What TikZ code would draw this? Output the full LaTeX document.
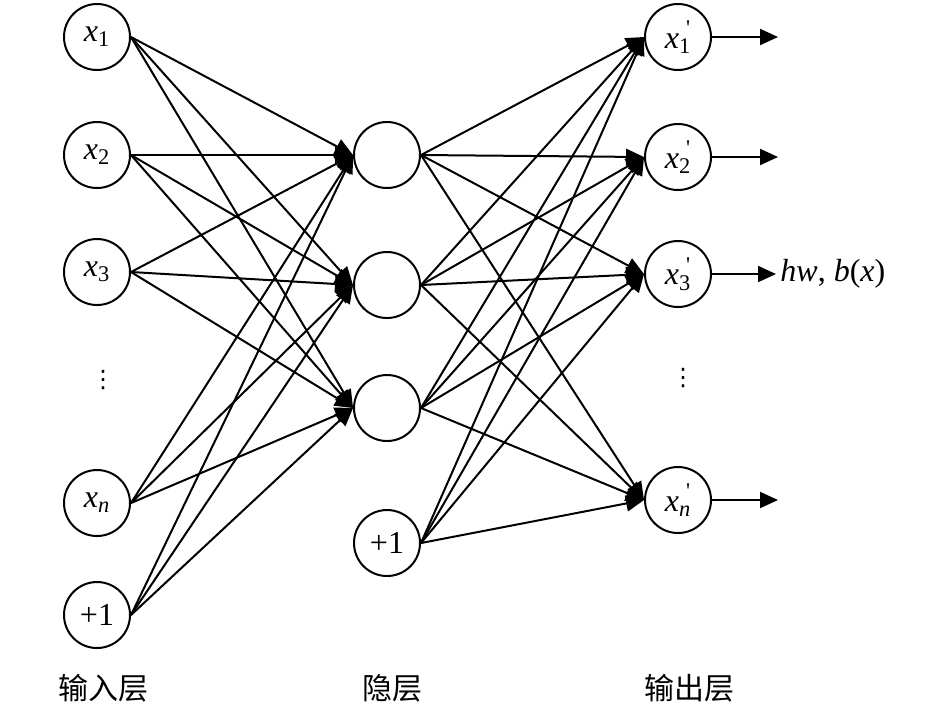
\documentclass[tikz,border=0pt]{standalone}
\usepackage{fontspec}
\setmainfont{Liberation Serif}
\newfontfamily\cjk{Noto Sans CJK SC}
\newfontfamily\sym{DejaVu Sans}
\usetikzlibrary{arrows.meta}
\newcommand{\inx}[1]{\textit{x}\textsubscript{#1}}
\newcommand{\outx}[1]{\textit{x}\textsubscript{#1}\llap{\textsuperscript{\textquotesingle}}}

\begin{document}
\begin{tikzpicture}[x=0.5pt,y=-0.5pt,
	unit/.style={draw,circle,line width=1pt,minimum size=33pt,inner sep=0pt,font=\fontsize{16}{18}\selectfont},
	link/.style={line width=1pt,-{Triangle[length=9pt,width=8pt]}},
	layer/.style={font=\cjk\fontsize{15}{18}\selectfont}]
	\useasboundingbox (0,0) rectangle (945,709);
	\foreach \n/\y/\t in {1/37/\inx{1},2/155/\inx{2},3/272/\inx{3},4/503/\inx{\textit{n}},5/615/+1}
		\node[unit] (in\n) at (97,\y) {\t};
	\foreach \n/\y/\t in {1/155/,2/285/,3/408/,4/543/+1}
		\node[unit] (hid\n) at (387,\y) {\t};
	\foreach \n/\y/\t in {1/37/\outx{1},2/157/\outx{2},3/274/\outx{3},4/500/\outx{\textit{n}}}
		\node[unit] (out\n) at (678,\y) {\t};
	\node[font=\sym\fontsize{12}{14}\selectfont] (dotl) at (103,380) {⋮};
	\node[font=\sym\fontsize{12}{14}\selectfont] (dotr) at (683,378) {⋮};
	\foreach \i in {1,...,5}
	\foreach \j in {1,2,3}
	{
		\draw[link] (in\i.east) -- (hid\j.west);
	}
	\foreach \i in {1,...,4}
	\foreach \j in {1,...,4}
	{
		\draw[link] (hid\i.east) -- (out\j.west);
	}
	\node[anchor=west,inner sep=2pt,font=\fontsize{16}{18}\selectfont] (res) at (776,274) {\textit{hw}, \textit{b}(\textit{x})};
	\coordinate (end1) at (778,37);
	\coordinate (end2) at (778,157);
	\coordinate (end4) at (778,500);
	\draw[link] (out1.east) -- (end1);
	\draw[link] (out2.east) -- (end2);
	\draw[link] (out3.east) -- (res.west);
	\draw[link] (out4.east) -- (end4);
	\node[layer] (lin) at (103,688) {输入层};
	\node[layer] (lhid) at (392,688) {隐层};
	\node[layer] (lout) at (689,688) {输出层};
\end{tikzpicture}
\end{document}
